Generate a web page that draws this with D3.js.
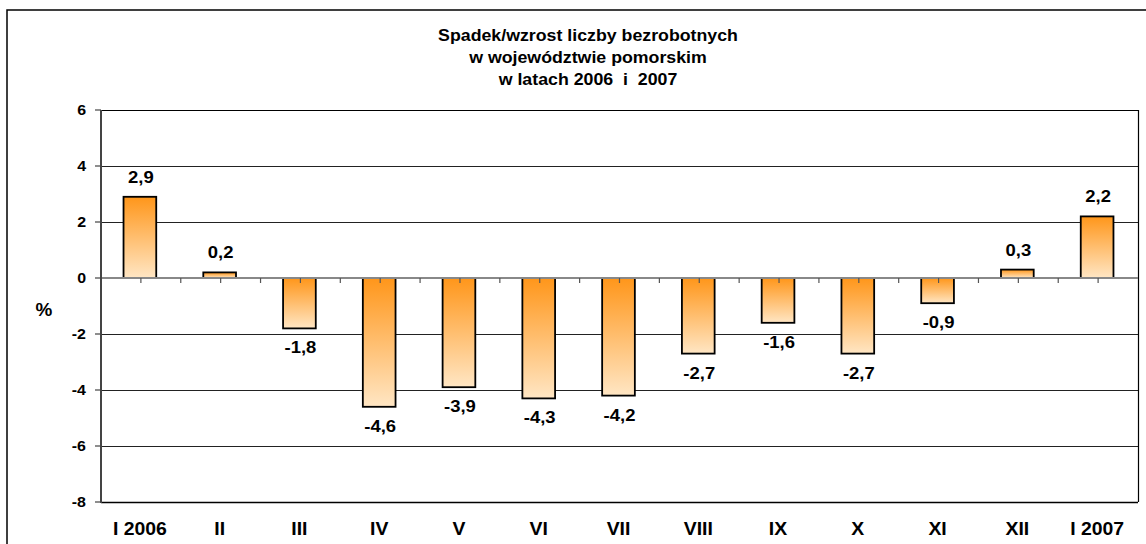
<!DOCTYPE html>
<html>
<head>
<meta charset="utf-8">
<script src="https://cdn.jsdelivr.net/npm/d3@7"></script>
<style>
html,body{margin:0;padding:0;background:#fff;}
svg{display:block;}
text{font-family:"Liberation Sans",Arial,sans-serif;font-weight:bold;fill:#000;white-space:pre;}
</style>
</head>
<body>
<svg id="chart" width="1146" height="544"></svg>
<script>
const categories = ["I 2006","II","III","IV","V","VI","VII","VIII","IX","X","XI","XII","I 2007"];
const values = [2.9, 0.2, -1.8, -4.6, -3.9, -4.3, -4.2, -2.7, -1.6, -2.7, -0.9, 0.3, 2.2];
const valueLabels = ["2,9","0,2","-1,8","-4,6","-3,9","-4,3","-4,2","-2,7","-1,6","-2,7","-0,9","0,3","2,2"];
const yTicks = [6, 4, 2, 0, -2, -4, -6, -8];
const titleLines = ["Spadek/wzrost liczby bezrobotnych", "w województwie pomorskim", "w latach 2006  i  2007"];
const yAxisTitle = "%";

const svg = d3.select("#chart");
const plot = {left: 101, right: 1138, top: 110, bottom: 502};

const x = d3.scaleBand().domain(categories).range([plot.left, plot.right]).paddingInner(0).paddingOuter(0);
const y = d3.scaleLinear().domain([-8, 6]).range([plot.bottom, plot.top]);

function stretchedText(g, str, px, py, size, sx, anchor) {
  return g.append("text")
    .attr("transform", `translate(${px},${py}) scale(${sx},1)`)
    .attr("text-anchor", anchor || "middle")
    .attr("xml:space", "preserve")
    .style("font-size", size + "px")
    .text(str);
}

// outer chart border (cut off at right and bottom)
svg.append("rect").attr("x", 7).attr("y", 10).attr("width", 1160).attr("height", 560)
  .attr("fill", "none").attr("stroke", "#000").attr("stroke-width", 1.5);

// gradient
const defs = svg.append("defs");
const grad = defs.append("linearGradient").attr("id", "barGrad")
  .attr("x1", 0).attr("y1", 0).attr("x2", 0).attr("y2", 1);
grad.append("stop").attr("offset", "0%").attr("stop-color", "#ff961a");
grad.append("stop").attr("offset", "100%").attr("stop-color", "#ffe6c4");

// gridlines
svg.append("g").selectAll("line").data(yTicks.filter(d => d !== 0 && d !== 6 && d !== -8)).join("line")
  .attr("x1", plot.left).attr("x2", plot.right)
  .attr("y1", d => Math.round(y(d)) + 0.5).attr("y2", d => Math.round(y(d)) + 0.5)
  .attr("stroke", "#222").attr("stroke-width", 1);

// plot frame top, right, bottom
svg.append("line").attr("x1", plot.left).attr("x2", plot.right).attr("y1", plot.top + 0.5).attr("y2", plot.top + 0.5)
  .attr("stroke", "#000").attr("stroke-width", 1.2);
svg.append("line").attr("x1", plot.right + 0.5).attr("x2", plot.right + 0.5).attr("y1", plot.top).attr("y2", plot.bottom)
  .attr("stroke", "#000").attr("stroke-width", 1.2);
svg.append("line").attr("x1", plot.left).attr("x2", plot.right).attr("y1", plot.bottom + 0.5).attr("y2", plot.bottom + 0.5)
  .attr("stroke", "#000").attr("stroke-width", 1.5);

// bars
const barW = x.bandwidth() * 0.41;
svg.append("g").selectAll("rect").data(values).join("rect")
  .attr("x", (d, i) => x(categories[i]) + x.bandwidth() / 2 - barW / 2 - 1)
  .attr("y", d => y(Math.max(0, d)))
  .attr("width", barW)
  .attr("height", d => Math.abs(y(d) - y(0)))
  .attr("fill", "url(#barGrad)")
  .attr("stroke", "#000").attr("stroke-width", 1.8);

// zero axis line
svg.append("line").attr("x1", plot.left).attr("x2", plot.right).attr("y1", y(0)).attr("y2", y(0))
  .attr("stroke", "#888").attr("stroke-width", 2);

// x axis ticks (every half category)
const halfTicks = [];
categories.forEach(c => { halfTicks.push(x(c)); halfTicks.push(x(c) + x.bandwidth() / 2); });
halfTicks.push(plot.right);
svg.append("g").selectAll("line").data(halfTicks.slice(1, -1)).join("line")
  .attr("x1", d => d).attr("x2", d => d)
  .attr("y1", y(0)).attr("y2", y(0) + 5)
  .attr("stroke", "#555").attr("stroke-width", 1.2);

// y axis line
svg.append("line").attr("x1", plot.left).attr("x2", plot.left).attr("y1", plot.top).attr("y2", plot.bottom + 1)
  .attr("stroke", "#444").attr("stroke-width", 2);

// y ticks and labels
const yg = svg.append("g");
yTicks.forEach(t => {
  yg.append("line").attr("x1", plot.left - 6).attr("x2", plot.left).attr("y1", y(t)).attr("y2", y(t))
    .attr("stroke", "#444").attr("stroke-width", 1.2);
  stretchedText(yg, String(t), 86, y(t) + 5, 14, 1.14, "end");
});

// y axis title
stretchedText(svg, yAxisTitle, 44, 316, 18, 1.05, "middle");

// category labels
categories.forEach(c => {
  stretchedText(svg, c, x(c) + x.bandwidth() / 2 - 1, 535, 18.5, 1.05, "middle");
});

// value labels
values.forEach((v, i) => {
  const cx = x(categories[i]) + x.bandwidth() / 2;
  const py = v >= 0 ? y(v) - 14 : y(v) + 25;
  stretchedText(svg, valueLabels[i], cx, py, 16.5, 1.12, "middle");
});

// title
titleLines.forEach((t, i) => {
  stretchedText(svg, t, 588, 41 + i * 22, 16, 1.11, "middle");
});
</script>
</body>
</html>
